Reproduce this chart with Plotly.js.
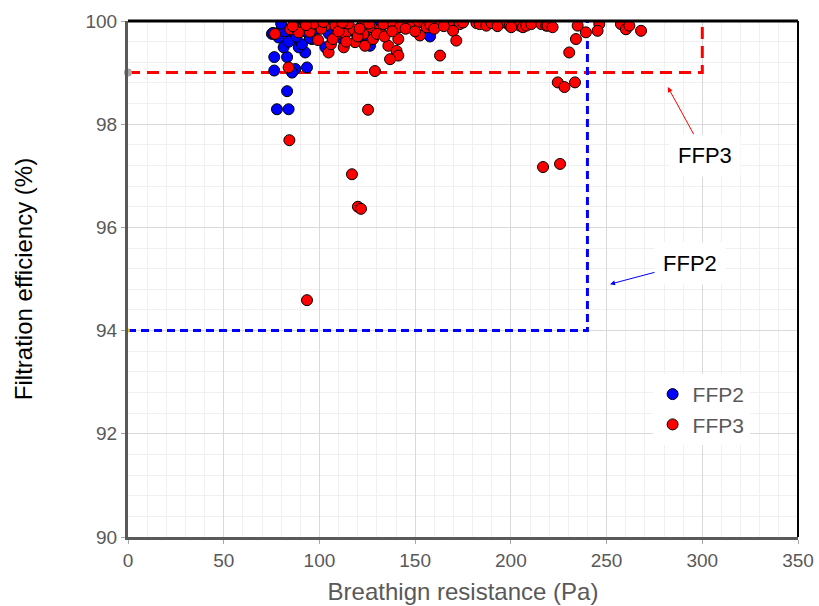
<!DOCTYPE html>
<html>
<head>
<meta charset="utf-8">
<script src="https://cdn.plot.ly/plotly-3.0.1.min.js"></script>
<style>html,body{margin:0;padding:0;background:#fff;}#chart{width:819px;height:606px;}</style>
</head>
<body>
<div id="chart"></div>
<script>
// FFP2 measurements: breathing resistance (Pa) and filtration efficiency (%)
const ffp2X = [76.4,76.4,83.1,77.8,83.9,93.5,87.4,85.7,83.1,92.6,81.3,89.2,96.1,78.7,85.7,90.9,75.2,75.8,80.4,87.4,99.6,94.4,96.6,110,109.7,115.3,103.1,121.2,126.4,132.5,130.6,157.8,95,82,84,88,91,98,105,112,118,124,80,92,100];
const ffp2Y = [99.30,99.04,98.64,98.29,98.29,99.10,99.07,99.00,99.30,99.39,99.49,99.49,99.65,99.68,99.65,99.55,99.75,99.77,99.88,99.94,99.94,99.88,99.96,99.94,99.98,99.88,99.49,99.65,99.52,99.97,99.96,99.70,99.67,99.80,99.60,99.70,99.80,99.85,99.75,99.65,99.80,99.70,99.95,99.97,99.99];

// FFP3 measurements
const ffp3X = [76.8,84.8,88.3,91.8,89.2,83.9,84.3,103.1,104.8,109.2,112.7,108.3,113.5,117.7,122.1,123,127.3,118.6,123.8,131.6,133.4,138.6,144.7,149.9,155.1,162.1,167.3,142.1,147.3,152.5,141.2,136,140.3,141.2,136.9,163,129,156,168,169.8,173.3,169.8,171.5,182,183.7,187.2,196.8,199.4,203.7,204.6,206.3,208.1,210.7,215.9,218.5,200.2,219.2,221.8,234.9,246.2,245.3,239.2,234,230.5,224.5,228,233.5,257.5,260.1,261.9,268,117,120.1,121.7,93.5,216.8,225.7,125.4,95,99.3,101,106,107,110,114,115,120,121,126,128,130,134,138,145,150,158,160,165,175,190,193,97,102,112,86,93];
const ffp3Y = [99.75,99.84,99.84,99.88,99.78,99.10,97.69,99.91,99.39,99.75,99.49,99.91,99.75,99.84,99.91,99.75,99.88,99.59,99.52,99.84,99.94,99.94,99.97,99.94,99.94,99.94,99.94,99.88,99.88,99.72,99.65,99.52,99.42,99.33,99.26,99.33,99.03,99.88,100.0,99.91,99.94,99.81,99.62,99.96,99.94,99.91,99.97,99.91,99.97,99.91,99.88,99.91,99.94,99.94,99.91,99.88,99.91,99.88,99.91,99.94,99.81,99.78,99.65,99.39,98.81,98.72,98.81,99.94,99.84,99.91,99.81,97.03,96.40,96.36,94.59,97.17,97.23,98.28,99.79,99.63,99.85,99.55,99.65,99.80,99.60,99.95,99.70,99.85,99.95,99.65,99.75,99.70,99.80,99.85,99.80,99.92,99.85,99.90,99.97,99.96,99.90,99.95,99.98,99.97,99.90,99.92];

// Standard limits (EN 149)
const ffp3LimitX = [0, 300, 300];
const ffp3LimitY = [99, 99, 100];
const ffp2LimitX = [0, 240, 240];
const ffp2LimitY = [94, 94, 100];

const xTicks = [0,50,100,150,200,250,300,350];
const yTicks = [90,92,94,96,98,100];

const font = "Liberation Sans, Arial, sans-serif";
const gray = "#595959";

const traces = [
  {x: ffp3LimitX, y: ffp3LimitY, mode: 'lines', showlegend: false, hoverinfo: 'skip',
   line: {color: '#ff0000', width: 3, dash: '12px,7px'}},
  {x: ffp2LimitX, y: ffp2LimitY, mode: 'lines', showlegend: false, hoverinfo: 'skip',
   line: {color: '#0000ff', width: 3, dash: '8px,5px'}},
  {x: [ffp3LimitX[0]], y: [ffp3LimitY[0]], mode: 'markers', showlegend: false, hoverinfo: 'skip',
   marker: {color: '#a6a6a6', size: 8}, cliponaxis: false},
  {x: [ffp2LimitX[0]], y: [ffp2LimitY[0]], mode: 'markers', showlegend: false, hoverinfo: 'skip',
   marker: {color: '#ffc000', size: 4}, cliponaxis: false},
  {x: ffp2X, y: ffp2Y, mode: 'markers', name: 'FFP2',
   marker: {color: '#0000ff', size: 11, line: {color: '#000000', width: 1}}},
  {x: ffp3X, y: ffp3Y, mode: 'markers', name: 'FFP3',
   marker: {color: '#ff0000', size: 11, line: {color: '#000000', width: 1}}}
];

const layout = {
  width: 819, height: 606,
  margin: {l: 128, r: 21, t: 21, b: 69},
  paper_bgcolor: '#ffffff', plot_bgcolor: '#ffffff',
  font: {family: font, color: gray, size: 16},
  showlegend: true,
  legend: {x: 0.783, y: 0.316, xanchor: 'left', yanchor: 'top', bgcolor: '#ffffff',
           font: {family: font, size: 21, color: gray}, itemwidth: 30},
  xaxis: {
    range: [0, 350], tickvals: xTicks, ticktext: xTicks.map(String),
    showgrid: true, gridcolor: '#d9d9d9', gridwidth: 1, zeroline: false,
    minor: {dtick: 10, showgrid: true, gridcolor: '#f0f0f0', gridwidth: 1},
    showline: true, linecolor: gray, linewidth: 3,
    ticks: 'outside', ticklen: 4, tickcolor: '#a6a6a6',
    tickfont: {family: font, size: 19, color: gray},
    title: {text: 'Breathign resistance (Pa)', font: {family: font, size: 24, color: gray}, standoff: 14}
  },
  yaxis: {
    range: [90, 100], tickvals: yTicks, ticktext: yTicks.map(String),
    showgrid: true, gridcolor: '#d9d9d9', gridwidth: 1, zeroline: false,
    minor: {dtick: 0.4, showgrid: true, gridcolor: '#f0f0f0', gridwidth: 1},
    showline: true, linecolor: gray, linewidth: 3,
    ticks: 'outside', ticklen: 4, tickcolor: '#a6a6a6',
    tickfont: {family: font, size: 19, color: gray},
    title: {text: 'Filtration efficiency (%)', font: {family: font, size: 24, color: '#000000'}, standoff: 47}
  },
  shapes: [
    {type: 'line', xref: 'paper', yref: 'paper', x0: 0, x1: 1, y0: 1, y1: 1, line: {color: '#000000', width: 3}},
    {type: 'line', xref: 'paper', yref: 'paper', x0: 1, x1: 1, y0: 0, y1: 1, line: {color: '#000000', width: 2}}
  ],
  annotations: [
    {x: 282, y: 98.72, ax: 301.5, ay: 97.4, axref: 'x', ayref: 'y', text: 'FFP3',
     showarrow: true, arrowhead: 2, arrowsize: 1, arrowwidth: 1, arrowcolor: '#ff0000',
     font: {family: font, size: 22, color: '#000000'}, bgcolor: '#ffffff', borderpad: 8},
    {x: 251.8, y: 94.9, ax: 293.6, ay: 95.31, axref: 'x', ayref: 'y', text: 'FFP2',
     showarrow: true, arrowhead: 2, arrowsize: 1, arrowwidth: 1, arrowcolor: '#0000ff',
     font: {family: font, size: 22, color: '#000000'}, bgcolor: '#ffffff', borderpad: 8}
  ]
};

Plotly.newPlot('chart', traces, layout, {displayModeBar: false, staticPlot: true});
</script>
</body>
</html>
